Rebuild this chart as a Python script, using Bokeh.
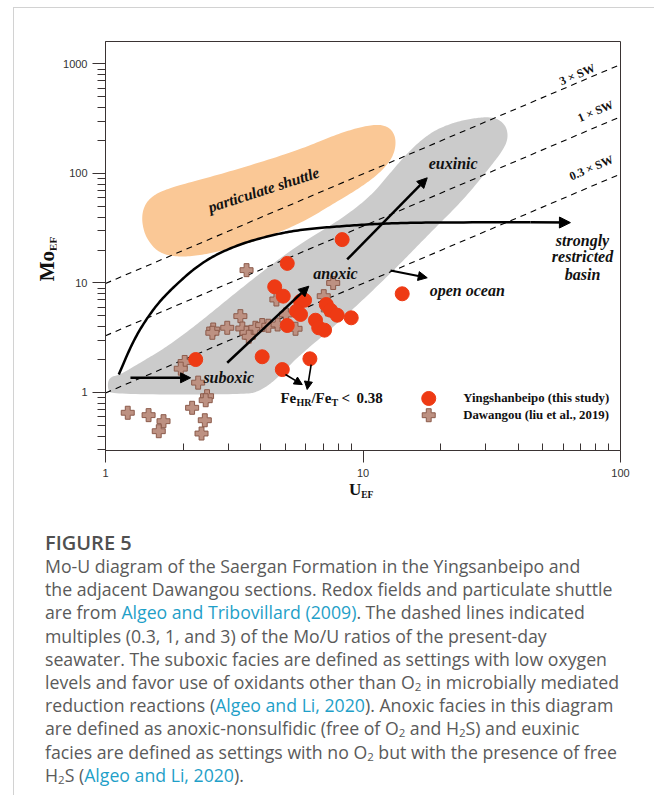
import numpy as np
from bokeh.plotting import figure
from bokeh.models import FixedTicker, Arrow, NormalHead, Label, Div, Range1d
from bokeh.layouts import column, row
from bokeh.embed import file_html
from bokeh.resources import INLINE
from bokeh.core.properties import value

# ---------------- data ----------------
# Yingshanbeipo samples (this study)
ysb_u = [8.30, 5.08, 4.54, 4.90, 5.72, 5.93, 5.52, 5.72, 5.08, 6.54, 6.73,
         7.09, 7.20, 7.48, 7.94, 9.00, 2.24, 4.06, 6.22, 4.86, 14.2]
ysb_mo = [24.9, 15.1, 9.23, 7.58, 6.82, 6.96, 5.53, 5.16, 4.09, 4.57, 3.90,
          3.71, 6.36, 5.64, 5.08, 4.81, 2.00, 2.12, 2.03, 1.62, 7.97]

# Dawangou samples (Liu et al., 2019)
dwg_u = [3.53, 7.66, 7.04, 4.61, 5.02, 3.34, 2.62, 2.60, 2.97, 3.40, 3.53,
         3.60, 3.82, 4.06, 4.29, 4.66, 5.47, 7.30, 2.03, 1.96, 2.29, 2.48,
         2.45, 2.17, 2.43, 2.36, 1.22, 1.47, 1.68, 1.61]
dwg_mo = [13.1, 10.0, 7.58, 7.07, 5.16, 4.98, 3.76, 3.51, 3.90, 3.84, 3.51,
          3.23, 3.90, 4.13, 4.07, 4.18, 3.82, 5.73, 1.90, 1.65, 1.23, 0.925,
          0.85, 0.725, 0.558, 0.422, 0.653, 0.621, 0.547, 0.443]

# seawater Mo_EF/U_EF ratio and the plotted multiples
sw_ratio = 3.3
sw_multiples = [0.3, 1, 3]
sw_labels = ["0.3 \u00d7 SW", "1 \u00d7 SW", "3 \u00d7 SW"]

# particulate shuttle field outline (U_EF, Mo_EF)
shuttle_u = [1.405, 1.522, 1.788, 3.06, 5.72, 8.18, 11.18, 12.79, 13.49, 13.14,
             11.69, 9.78, 7.82, 5.72, 4.00, 2.80, 2.05, 1.635, 1.443, 1.380]
shuttle_mo = [49.9, 63.0, 74.5, 104.3, 165.6, 236.8, 286.2, 263.0, 204.4, 142.9,
              102.1, 74.5, 54.3, 34.9, 25.0, 19.4, 17.1, 18.2, 25.0, 36.4]

# redox field outline (suboxic - anoxic - euxinic)
redox_u = [1.027, 1.144, 1.308, 1.741, 2.34, 3.14, 4.26, 5.72, 8.18, 10.69,
           12.79, 15.29, 18.29, 21.87, 26.2, 32.1, 35.8, 36.7, 35.1, 31.3,
           24.6, 18.29, 13.61, 10.04, 7.48, 5.72, 5.00, 4.45, 3.93, 3.50,
           1.065, 1.018]
redox_mo = [1.371, 1.460, 1.764, 2.63, 4.45, 7.85, 13.85, 22.9, 38.0, 61.7,
            102.1, 165.6, 236.8, 286.2, 318.0, 331.6, 280.3, 213.2, 165.6, 115.9,
            57.9, 28.9, 14.15, 7.07, 3.76, 2.22, 1.62, 1.234, 1.021, 0.959,
            0.959, 1.065]

# restricted-basin trend curve
basin_u = [1.126, 1.288, 1.495, 1.736, 2.34, 3.15, 4.25, 5.72, 8.18, 11.69,
           18.29, 44.7]
basin_mo = [1.46, 3.05, 5.34, 8.14, 15.3, 21.7, 26.8, 30.8, 33.0, 34.9,
            35.8, 35.8]
basin_tip = (63.9, 35.6)

# trend arrows: (u_start, mo_start, u_end, mo_end)
trend_arrows = {
    "suboxic": (1.25, 1.362, 2.14, 1.362),
    "anoxic": (2.97, 1.87, 6.16, 9.35),
    "euxinic": (8.68, 16.4, 17.76, 91.3),
    "open ocean": (12.79, 13.0, 17.76, 11.16),
    "fe1": (5.00, 1.46, 5.81, 1.18),
    "fe2": (6.29, 1.80, 6.07, 1.065),
}

x_ticks = [1, 10, 100]
y_ticks = [1, 10, 100, 1000]
x_tick_labels = ["1", "10", "100"]
y_tick_labels = ["1", "10", "100", "1000"]


def chaikin_closed(u, mo, n=4):
    pts = np.column_stack([np.log10(u), np.log10(mo)])
    for _ in range(n):
        nxt = np.roll(pts, -1, axis=0)
        q = 0.75 * pts + 0.25 * nxt
        r = 0.25 * pts + 0.75 * nxt
        out = np.empty((2 * len(pts), 2))
        out[0::2] = q
        out[1::2] = r
        pts = out
    return 10 ** pts[:, 0], 10 ** pts[:, 1]


def chaikin_open(u, mo, n=4):
    pts = np.column_stack([np.log10(u), np.log10(mo)])
    for _ in range(n):
        a, b = pts[:-1], pts[1:]
        q = 0.75 * a + 0.25 * b
        r = 0.25 * a + 0.75 * b
        mid = np.empty((2 * len(a), 2))
        mid[0::2] = q
        mid[1::2] = r
        pts = np.vstack([pts[:1], mid[1:-1], pts[-1:]])
    return 10 ** pts[:, 0], 10 ** pts[:, 1]


SERIF = "Liberation Serif"
SANS = "Liberation Sans"
AX = "#3a3333"

p = figure(x_axis_type="log", y_axis_type="log",
           x_range=Range1d(1, 100), y_range=Range1d(0.2953, 1605),
           frame_width=515, frame_height=409,
           min_border_left=49, min_border_right=34,
           min_border_top=33, min_border_bottom=31,
           output_backend="svg", toolbar_location=None, margin=0)
p.grid.visible = False
p.outline_line_color = AX
p.outline_line_width = 1
p.background_fill_color = "white"
p.border_fill_color = "white"

minor_x = [m * 10 ** e for e in range(0, 2) for m in range(2, 10)]
minor_y = [m * 10 ** e for e in range(-1, 4) for m in range(2, 10)
           if 0.2953 <= m * 10 ** e <= 1605]
p.xaxis.ticker = FixedTicker(ticks=x_ticks, minor_ticks=minor_x)
p.yaxis.ticker = FixedTicker(ticks=y_ticks, minor_ticks=minor_y)
p.xaxis.major_label_overrides = {float(t): s for t, s in zip(x_ticks, x_tick_labels)}
p.yaxis.major_label_overrides = {float(t): s for t, s in zip(y_ticks, y_tick_labels)}

for ax in (p.xaxis[0], p.yaxis[0]):
    ax.axis_line_color = AX
    ax.major_tick_line_color = AX
    ax.minor_tick_line_color = AX
    ax.major_label_text_font = SANS
    ax.major_label_text_font_size = "11px"
    ax.major_label_text_color = "#333333"

p.xaxis.major_tick_out = 12
p.xaxis.major_tick_in = 0
p.xaxis.minor_tick_in = 7
p.xaxis.minor_tick_out = 0
p.xaxis.major_label_standoff = 6
p.yaxis.major_tick_out = 13
p.yaxis.major_tick_in = 0
p.yaxis.minor_tick_out = 8
p.yaxis.minor_tick_in = 0
p.yaxis.major_label_standoff = 5

# fields
su, sm = chaikin_closed(shuttle_u, shuttle_mo)
p.patch(su, sm, fill_color="#FAC896", line_color=None)
ru, rm = chaikin_closed(redox_u, redox_mo)
p.patch(ru, rm, fill_color="#CBCBCB", line_color=None)

# seawater ratio lines
for k in sw_multiples:
    p.line([1, 100], [k * sw_ratio * 1, k * sw_ratio * 100],
           line_color="black", line_width=1.1, line_dash="6 5")

# restricted basin curve
bu, bm = chaikin_open(basin_u, basin_mo)
p.line(bu, bm, line_color="black", line_width=2.5)
p.add_layout(Arrow(end=NormalHead(size=11, fill_color="black", line_color="black"),
                   x_start=basin_u[-1], y_start=basin_mo[-1],
                   x_end=basin_tip[0], y_end=basin_tip[1],
                   line_color="black", line_width=2.5))

widths = {"suboxic": 2.5, "anoxic": 2.5, "euxinic": 2.5, "open ocean": 2.2,
          "fe1": 1.6, "fe2": 1.6}
heads = {"suboxic": 10, "anoxic": 10, "euxinic": 10, "open ocean": 9,
         "fe1": 8, "fe2": 8}
for key, (u0, m0, u1, m1) in trend_arrows.items():
    p.add_layout(Arrow(end=NormalHead(size=heads[key], fill_color="black",
                                      line_color="black"),
                       x_start=u0, y_start=m0, x_end=u1, y_end=m1,
                       line_color="black", line_width=widths[key]))

# samples
p.scatter(dwg_u, dwg_mo, marker="plus", size=13,
          fill_color="#BD9182", line_color="#8C5B4B", line_width=1)
p.scatter(ysb_u, ysb_mo, marker="circle", size=14,
          fill_color="#EE3A14", line_color="#EE3A14")

# field names
italic_txt = dict(text_font=value(SERIF), text_font_style="bold italic",
                  text_align="center", text_baseline="middle",
                  text_color="#111111")
p.text(x=[22.4, 7.82, 3.01, 25.4, 71.2, 71.2, 71.2],
       y=[123.4, 12.2, 1.371, 8.54, 24.4, 17.28, 11.96],
       text=["euxinic", "anoxic", "suboxic", "open ocean",
             "strongly", "restricted", "basin"],
       text_font_size="16px", **italic_txt)
p.text(x=[4.11], y=[71.4], text=["particulate shuttle"], angle=np.deg2rad(18),
       text_font_size="15.5px", **italic_txt)

# seawater ratio line labels
p.text(x=[77.0, 80.0, 67.9], y=[112.7, 370.7, 802], text=sw_labels,
       angle=np.deg2rad(23), text_font=value(SERIF), text_font_style="bold",
       text_font_size="12px", text_align="center", text_baseline="middle",
       text_color="#111111")

# Fe_HR/Fe_T < 0.38 note
fe_parts = [("Fe", 0, 0, "15px"), ("HR", 16, -4, "10px"), ("/Fe", 31, 0, "15px"),
            ("T", 51, -4, "10px"), ("<", 61, 0, "15px"), ("0.38", 76, 0, "15px")]
for txt, dx, dy, fs in fe_parts:
    p.add_layout(Label(x=4.78, y=0.882, x_offset=dx, y_offset=dy, text=txt,
                       text_font=SERIF, text_font_style="bold", text_font_size=fs,
                       text_align="left", text_baseline="middle",
                       text_color="#111111"))

# legend
p.scatter([18.0], [0.882], marker="circle", size=14,
          fill_color="#EE3A14", line_color="#EE3A14")
p.scatter([18.0], [0.620], marker="plus", size=13,
          fill_color="#BD9182", line_color="#8C5B4B", line_width=1)
p.text(x=[24.5, 24.5], y=[0.882, 0.620],
       text=["Yingshanbeipo (this study)", "Dawangou (liu et al., 2019)"],
       text_font=value(SERIF), text_font_style="bold", text_font_size="12.8px",
       text_align="left", text_baseline="middle", text_color="#111111")

# axis titles (with subscripts) as html next to the plot
title_font = "font-family:'Liberation Serif';font-weight:bold;color:#111;"
y_title = Div(
    text=('<div style="position:relative;left:-17px;top:239px;width:100px;height:24px;'
          'line-height:24px;text-align:center;white-space:nowrap;transform:rotate(-90deg);'
          + title_font + 'font-size:21px;">Mo<span style="font-size:11px;'
          'vertical-align:-3px;line-height:0;">EF</span></div>'),
    width=42, height=450, margin=0)
x_title = Div(
    text=('<div style="padding-left:335px;line-height:18px;white-space:nowrap;'
          + title_font + 'font-size:17px;">U<span style="font-size:9.5px;'
          'vertical-align:-3px;line-height:0;">EF</span></div>'),
    width=640, height=24, margin=0)

link = '<span style="color:#1fa0c8">{}</span>'
sub2 = '<sub style="font-size:11.5px;vertical-align:-2px;line-height:0">2</sub>'
lines = [
    "Mo-U diagram of the Saergan Formation in the Yingsanbeipo and",
    "the adjacent Dawangou sections. Redox fields and particulate shuttle",
    "are from " + link.format("Algeo and Tribovillard (2009)") + ". The dashed lines indicated",
    "multiples (0.3, 1, and 3) of the Mo/U ratios of the present-day",
    "seawater. The suboxic facies are defined as settings with low oxygen",
    "levels and favor use of oxidants other than O" + sub2 + " in microbially mediated",
    "reduction reactions (" + link.format("Algeo and Li, 2020") + "). Anoxic facies in this diagram",
    "are defined as anoxic-nonsulfidic (free of O" + sub2 + " and H" + sub2 + "S) and euxinic",
    "facies are defined as settings with no O" + sub2 + " but with the presence of free",
    "H" + sub2 + "S (" + link.format("Algeo and Li, 2020") + ").",
]
caption_html = (
    '<div style="padding:26px 0 0 31px;font-family:\'Open Sans\';color:#5a5a5a;'
    'white-space:nowrap;">'
    '<div style="font-size:20px;font-weight:600;line-height:24px;color:#505050;">FIGURE 5</div>'
    '<div style="font-size:17.7px;line-height:23.2px;">' + "<br>".join(lines) + "</div></div>"
)
cap = Div(text=caption_html, width=640, height=290, margin=0)

page = column(row(y_title, p), x_title, cap, margin=(7, 0, 0, 13),
              styles={"border-left": "1px solid #d2d2d2",
                      "border-top": "1px solid #d2d2d2"})

open("out.html", "w").write(file_html(page, INLINE))
